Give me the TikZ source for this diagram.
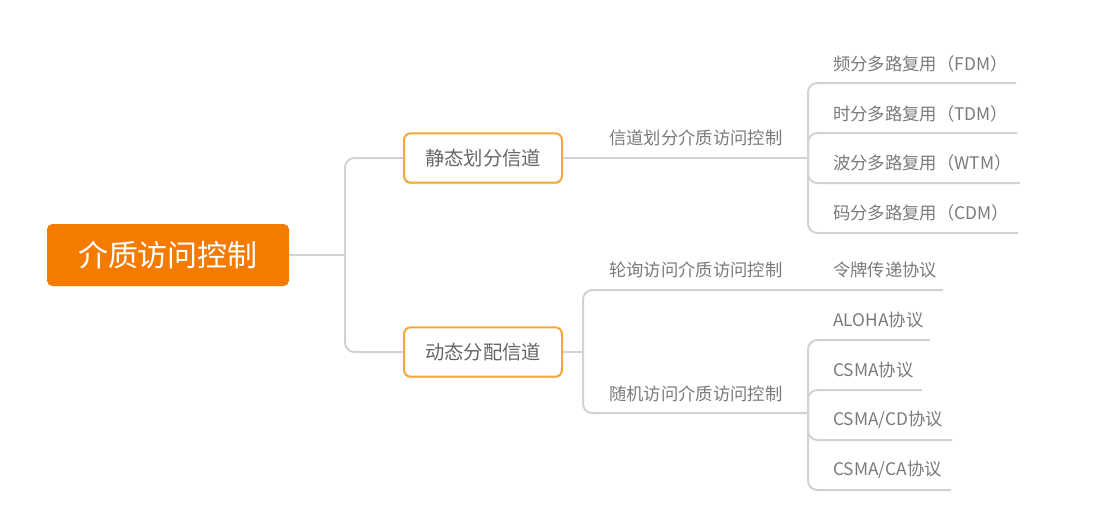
\documentclass[tikz,border=0pt]{standalone}
\usepackage{fontspec}
\setmainfont{Noto Sans CJK SC}
\usetikzlibrary{shadows}
\definecolor{rootfill}{HTML}{F57A00}
\definecolor{boxline}{HTML}{F5A73B}
\definecolor{conn}{HTML}{D0D2D3}
\definecolor{txtbox}{HTML}{666666}
\definecolor{txtleaf}{HTML}{7A7A7A}
\tikzset{
  rootbox/.style={fill=rootfill, rounded corners=4pt, minimum width=181.5pt, minimum height=46.5pt, text=white, font=\fontsize{22.5}{26}\selectfont, inner sep=0},
  topicbox/.style={draw=boxline, line width=1.5pt, fill=white, rounded corners=5pt, minimum width=118.5pt, minimum height=37pt, text=txtbox, font=\fontsize{14.5}{17}\selectfont, inner sep=0, drop shadow={opacity=0.18, shadow xshift=0pt, shadow yshift=-1.2pt}},
  sublabel/.style={anchor=base west, text=txtleaf, font=\fontsize{13}{15}\selectfont, inner sep=0},
  leaf/.style={anchor=base west, text=txtleaf, font=\fontsize{13}{15}\selectfont, inner sep=0},
  link/.style={draw=conn, line width=1.5pt, rounded corners=7pt},
}
\begin{document}
\begin{tikzpicture}[x=0.75pt,y=-0.75pt]
\useasboundingbox (0,0) rectangle (1108,518);
% nodes
\node[rootbox] (root) at (168,255) {介质访问控制};
\node[topicbox] (b1) at (483,158) {静态划分信道};
\node[topicbox] (b2) at (483,352) {动态分配信道};
% sub labels
\node[sublabel] (s1) at (609,144) {信道划分介质访问控制};
\node[sublabel] (s2) at (609,276) {轮询访问介质访问控制};
\node[sublabel] (s3) at (609,400) {随机访问介质访问控制};
% leaves
\node[leaf] (l1) at (833,70) {频分多路复用（FDM）};
\node[leaf] (l2) at (833,120) {时分多路复用（TDM）};
\node[leaf] (l3) at (833,169) {波分多路复用（WTM）};
\node[leaf] (l4) at (833,219) {码分多路复用（CDM）};
\node[leaf] (l5) at (833,276) {令牌传递协议};
\node[leaf] (l6) at (833,326) {ALOHA协议};
\node[leaf] (l7) at (833,376) {CSMA协议};
\node[leaf] (l8) at (833,425) {CSMA/CD协议};
\node[leaf] (l9) at (833,475) {CSMA/CA协议};
% junctions and line ends
\coordinate (j0) at (345,255);
\coordinate (j1) at (808,158);
\coordinate (j2) at (583,352);
\coordinate (j3) at (808,413);
\coordinate (e1) at (1016,83);
\coordinate (e2) at (1017,133);
\coordinate (e3) at (1020,183);
\coordinate (e4) at (1018,233);
\coordinate (e5) at (943,290);
\coordinate (e6) at (930,340);
\coordinate (e7) at (922,390);
\coordinate (e8) at (952,440);
\coordinate (e9) at (951,490);
% connectors
\draw[link] (root.east) -- (j0);
\draw[link] (j0) |- (b1.west);
\draw[link] (j0) |- (b2.west);
\draw[link] (b1.east) -- (j1);
\draw[link] (j1) |- (e1);
\draw[link] (j1) |- (e2);
\draw[link] (j1) |- (e3);
\draw[link] (j1) |- (e4);
\draw[link] (b2.east) -- (j2);
\draw[link] (j2) |- (e5);
\draw[link] (j2) |- (j3);
\draw[link] (j3) |- (e6);
\draw[link] (j3) |- (e7);
\draw[link] (j3) |- (e8);
\draw[link] (j3) |- (e9);
\end{tikzpicture}
\end{document}
